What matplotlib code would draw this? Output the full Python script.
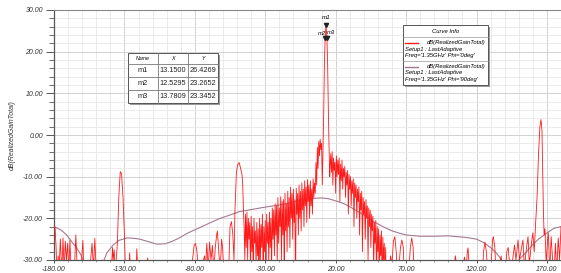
import numpy as np
import matplotlib.pyplot as plt
from matplotlib.patches import Rectangle
from matplotlib.lines import Line2D

plt.rcParams['font.family'] = ['Liberation Sans', 'DejaVu Sans']

# --- data ------------------------------------------------------------------
# red curve: Phi = 0deg (sparse parts written as theta/gain pairs)
secA_theta = [-180, -179.3, -178.5, -178, -177, -176.5, -175.5, -174.5, -173.6, -172.8,
              -172, -171.2, -170.3, -169.5, -168.7, -167.8, -166, -164.5, -163.5, -162,
              -160, -159.5, -158.8, -157, -154, -153, -152, -151, -150, -148, -146, -145.5]
secA_gain = [-22, -22, -27, -33, -29, -33, -25, -33, -24.7, -33,
             -25.5, -30, -26, -33, -25.2, -33, -36, -24, -33, -38,
             -28, -25.3, -33, -38, -30, -26, -32, -24.8, -33, -38, -30, -33]

secB_theta = [-140, -138.5, -138, -137.3, -136.5, -135, -134, -133, -132.6, -132, -131, -130,
              -129, -127, -126.3, -125.5, -122, -121.2, -120.5, -118, -114, -113.5, -113,
              -110, -84, -82, -80.5, -79.5, -78.5, -77.5]
secB_gain = [-38, -27, -30, -27.5, -33, -26, -15, -9, -8.8, -9.5, -15, -24,
             -35, -36, -28.3, -33, -36, -27.3, -33, -38, -31, -29.5, -31,
             -38, -38, -31, -26.5, -26, -28, -33]

secC_theta = [-76, -74, -73, -72.5, -71.5, -70.5, -69.5, -68.5, -67.5, -66.5, -65.5, -64.5,
              -64, -63, -62, -61, -60.3, -59.5, -58, -56, -55, -54, -53, -52.2, -51.5,
              -50.5, -49.5, -48.5, -47.5, -46.5, -46, -45.5, -45, -44.5]
secC_gain = [-38, -30, -29, -33, -26, -32, -25.7, -30, -26.5, -33, -27, -24,
             -23, -28, -33, -25, -27, -33, -38, -33, -22, -20.8, -24, -30, -18,
             -9, -7, -6.6, -8, -9.5, -12, -18, -22, -30]

# dense side-lobe region, sampled every 0.5 deg from -44 to 9.5
dense1_gain = [
    -19, -27, -18.5, -30, -20, -25, -21, -33, -19.5, -28, -22, -35, -20, -26, -23, -32, -21, -29, -22.5, -35,
    -20, -31, -21.5, -27, -19, -34, -22, -28, -20.5, -36, -19, -26, -21, -31, -18.5, -27, -20, -33, -17.5, -25,
    -18, -29, -16.5, -24, -17, -31, -15, -26, -17.5, -22, -14.8, -30, -16, -24, -15.5, -35, -14, -23, -16.5, -28,
    -13.5, -22, -15, -27, -12.5, -20, -14, -25, -13, -21, -15.5, -38, -12.8, -19, -14, -24, -12, -20, -13.5, -23,
    -11.5, -18, -13, -22, -11, -17, -12.5, -21, -10.7, -16, -12, -20, -11, -17, -13, -19, -10.5, -15, -11.5, -14,
    -6.6, -12, -3, -8, -1.5, -5, -1, -3.5]

# main lobe with the three markers
lobe_theta = [10, 10.5, 11, 11.5, 12, 12.5295, 13.15, 13.7809, 14.3, 14.8, 15.3, 15.8, 16.0]
lobe_gain = [-2, -12, -4, 5, 17, 23.2652, 26.4269, 23.3452, 17, 6, -3, -10, -8]

# dense region, sampled every 0.5 deg from 16.5 to 55.5
dense2_gain = [
    -4.5, -9, -4, -12, -5.5, -8.5, -6.5, -14, -5, -10, -6, -9.5, -5.5, -16, -7, -11, -6, -13, -8,
    -10, -7.5, -15, -9, -12, -8.5, -19, -9.5, -13, -10, -17, -11, -14, -10.5, -22, -11.5, -15, -12, -20, -13,
    -16, -12.5, -24, -14, -18, -13.5, -28, -15, -19, -16, -25, -15.5, -20, -17, -30, -17.5, -22, -18, -27, -19,
    -23, -19.5, -33, -21, -26, -20.5, -35, -22, -28, -22.5, -36, -24, -29, -23, -38, -24.5, -30, -26, -35, -27]

secF_theta = [56, 58, 59, 60, 61, 62, 63, 64, 66, 67, 68, 69, 71, 73, 74, 75, 76, 80, 100,
              104, 105, 106, 108, 110, 111.5, 112.5, 113.5, 114, 114.5, 116, 124, 125, 126,
              127, 128.5, 130.5, 131.5, 132, 133, 134.5, 136.5, 137.5, 138.5, 140, 141.5,
              142.5, 143.5, 144.5, 146, 147, 148, 149.5, 150.5, 152, 153, 154, 155.5, 156.6,
              157.5, 159, 160, 161, 162, 163, 164, 165, 165.8, 166.5, 167, 167.5, 168, 168.6,
              169.5, 170.5, 171, 172, 173, 174, 175, 176, 177, 178, 179, 180]
secF_gain = [-38, -33, -29, -31, -25.5, -24.4, -28, -36, -27, -25.2, -27, -36, -38, -27, -24.7, -27, -36, -40, -40,
             -32, -29, -32, -40, -32, -29.3, -33, -28, -27.1, -30, -40, -35, -28, -25.7,
             -28, -36, -30, -25, -24.4, -27, -38, -31, -29, -33, -36, -28,
             -27, -31, -33, -29, -26.4, -30, -25.2, -30, -27, -25.2, -32, -27, -24.4,
             -31, -26, -23.5, -28, -21, -15, -5, 2, 3.7, 1, -8, -18, -24, -22.5,
             -31, -25, -23.5, -33, -24.4, -30, -35, -26, -33, -24.7, -30, -22]

# purple curve: Phi = 90deg
phi90_theta = [-180, -175, -171, -167, -164, -161, -159.5, -155, -150, -145, -142.5, -138, -134,
               -128, -123, -119, -113, -107, -101, -96, -91, -86, -81, -77, -70, -62, -55,
               -48.5, -40, -30, -20, -12, -6, 0, 5, 10, 15, 20, 26, 31, 36, 42, 47, 53.6, 60,
               65.6, 70, 80, 90, 100, 110, 115, 120, 125, 130, 134, 137, 140, 145, 150, 155,
               160, 164, 170, 175, 180]
phi90_gain = [-22, -22.8, -24, -25.8, -27, -28.7, -30, -32, -33, -30.5, -28.3, -26.4, -25.3,
              -24.7, -24.8, -25, -25.6, -26.2, -26.1, -25.5, -24.7, -23.7, -22.9, -22.3, -21.2, -20, -19.2,
              -18.4, -17.9, -17.3, -16.8, -16.3, -15.7, -15.4, -15.2, -15.1, -15.3, -15.8, -16.5, -17.4, -18.4, -19.6, -20.8, -22, -23,
              -23.6, -24, -24.3, -24.3, -24.2, -24.5, -24.7, -25, -25.8, -27, -28.3, -29.6, -31, -32, -30, -28.2,
              -26.3, -25, -23.5, -22.4, -22]

marker_names = ['m1', 'm2', 'm3']
marker_x = [13.1500, 12.5295, 13.7809]
marker_y = [26.4269, 23.2652, 23.3452]

x_ticks = [-180, -130, -80, -30, 20, 70, 120, 170]
y_ticks = [30, 20, 10, 0, -10, -20, -30]

red_theta = np.concatenate([secA_theta, secB_theta, secC_theta,
                            np.arange(-44.0, 10.0, 0.5), lobe_theta,
                            np.arange(16.5, 56.0, 0.5), secF_theta])
red_gain = np.concatenate([secA_gain, secB_gain, secC_gain, dense1_gain,
                           lobe_gain, dense2_gain, secF_gain])

# --- figure -----------------------------------------------------------------
W, H = 561, 273
fig = plt.figure(figsize=(W / 100, H / 100), dpi=100)
fig.patch.set_facecolor('white')


def fx(px):
    return px / W


def fy(py):
    return 1 - py / H


ax = fig.add_axes([fx(54), fy(260), (561 - 54) / W, 250 / H])
ax.set_xlim(-180, 180)
ax.set_ylim(-30, 30)

ax.plot(phi90_theta, phi90_gain, color='#a4788f', lw=0.8, zorder=3)
ax.plot(red_theta, red_gain, color='#ff1a1a', lw=0.6, zorder=4)

# markers
ax.plot(marker_x, marker_y, linestyle='none', marker='v', ms=3, mfc='#222222', mec='#222222', zorder=6)
ax.text(marker_x[0], marker_y[0] + 1.2, 'm1', fontsize=4.5, style='italic', ha='center', va='bottom', zorder=7)
ax.text(marker_x[1] + 0.4, marker_y[1] + 0.6, 'm2', fontsize=4.2, style='italic', ha='right', va='bottom', zorder=7)
ax.text(marker_x[2] - 0.2, marker_y[2] + 0.6, 'm3', fontsize=4.2, style='italic', ha='left', va='bottom', zorder=7)

# grid
ax.set_xticks(x_ticks)
ax.set_xticks(np.arange(-180, 181, 10), minor=True)
ax.set_yticks(y_ticks)
ax.set_yticks(np.arange(-30, 31, 2), minor=True)
ax.grid(which='minor', color='#e8e8e8', lw=0.6)
ax.grid(which='major', color='#d2d2d2', lw=0.7)
ax.set_axisbelow(True)

ax.set_xticklabels(['%.2f' % v for v in x_ticks], fontsize=5, style='italic', color='#333333')
ax.set_yticklabels(['%.2f' % v for v in y_ticks], fontsize=5, style='italic', color='#333333')
ax.tick_params(axis='y', which='major', direction='out', length=6, width=0.7, color='#555555', pad=2)
ax.tick_params(axis='y', which='minor', direction='out', length=3.5, width=0.6, color='#555555')
ax.tick_params(axis='x', which='major', direction='out', length=2.5, width=0.7, color='#555555', pad=1.5)
ax.tick_params(axis='x', which='minor', direction='out', length=1.5, width=0.5, color='#777777')

for side in ['left', 'bottom']:
    ax.spines[side].set_color('#555555')
    ax.spines[side].set_linewidth(0.9)
ax.spines['top'].set_color('#888888')
ax.spines['top'].set_linewidth(0.8)
ax.spines['right'].set_visible(False)

ax.set_xlabel('Theta [deg]', fontsize=5, style='italic', color='#333333', labelpad=0)
ax.set_ylabel('dB(RealizedGainTotal)', fontsize=5, style='italic', color='#333333', labelpad=5)

# --- marker table ----------------------------------------------------------
tx0, tx1, ty0, ty1 = 128, 218, 53, 103
fig.add_artist(Rectangle((fx(tx0 + 2), fy(ty1 + 2)), (tx1 - tx0) / W, (ty1 - ty0) / H,
                         transform=fig.transFigure, facecolor='#9a9a9a', edgecolor='none', zorder=8))
fig.add_artist(Rectangle((fx(tx0), fy(ty1)), (tx1 - tx0) / W, (ty1 - ty0) / H,
                         transform=fig.transFigure, facecolor='white', edgecolor='#555555', lw=0.7, zorder=9))
col_edges = [128, 158, 188, 218]
row_edges = [53, 63.5, 77, 90, 103]
for cx in col_edges[1:-1]:
    fig.add_artist(Line2D([fx(cx), fx(cx)], [fy(ty0), fy(ty1)], color='#777777', lw=0.6, zorder=10))
for ry in row_edges[1:-1]:
    fig.add_artist(Line2D([fx(tx0), fx(tx1)], [fy(ry), fy(ry)], color='#777777', lw=0.6, zorder=10))
headers = ['Name', 'X', 'Y']
for i, hd in enumerate(headers):
    fig.text(fx((col_edges[i] + col_edges[i + 1]) / 2), fy((row_edges[0] + row_edges[1]) / 2), hd,
             fontsize=3.8, style='italic', ha='center', va='center', zorder=11)
for r in range(3):
    yc = fy((row_edges[r + 1] + row_edges[r + 2]) / 2)
    cells = [marker_names[r], '%.4f' % marker_x[r], '%.4f' % marker_y[r]]
    for i, c in enumerate(cells):
        fig.text(fx((col_edges[i] + col_edges[i + 1]) / 2), yc, c, fontsize=5.3,
                 ha='center', va='center', color='#222222', zorder=11)

# --- curve info box --------------------------------------------------------
lx0, lx1, ly0, ly1 = 403, 488, 25, 85
fig.add_artist(Rectangle((fx(lx0 + 2), fy(ly1 + 2)), (lx1 - lx0) / W, (ly1 - ly0) / H,
                         transform=fig.transFigure, facecolor='#9a9a9a', edgecolor='none', zorder=8))
fig.add_artist(Rectangle((fx(lx0), fy(ly1)), (lx1 - lx0) / W, (ly1 - ly0) / H,
                         transform=fig.transFigure, facecolor='white', edgecolor='#555555', lw=0.7, zorder=9))
fig.text(fx(446), fy(31.5), 'Curve Info', fontsize=4.2, style='italic', ha='center', va='center', zorder=11)
fig.add_artist(Line2D([fx(lx0), fx(lx1)], [fy(36.5), fy(36.5)], color='#999999', lw=0.5, zorder=10))
fig.add_artist(Line2D([fx(lx0), fx(lx1)], [fy(60.5), fy(60.5)], color='#999999', lw=0.5, zorder=10))
entries = [('#ff1a1a', 42.5, "Freq='1.35GHz' Phi='0deg'"),
           ('#a4788f', 66.5, "Freq='1.35GHz' Phi='90deg'")]
for col, yy, freq in entries:
    fig.add_artist(Line2D([fx(405), fx(418)], [fy(yy), fy(yy)], color=col, lw=1.0, zorder=10))
    fig.text(fx(486), fy(yy), 'dB(RealizedGainTotal)', fontsize=4.2, style='italic',
             ha='right', va='center', zorder=11)
    fig.text(fx(405), fy(yy + 6.5), 'Setup1 : LastAdaptive', fontsize=4.2, style='italic',
             ha='left', va='center', zorder=11)
    fig.text(fx(405), fy(yy + 13), freq, fontsize=4.2, style='italic',
             ha='left', va='center', zorder=11)

fig.savefig('out.png', dpi=100)
